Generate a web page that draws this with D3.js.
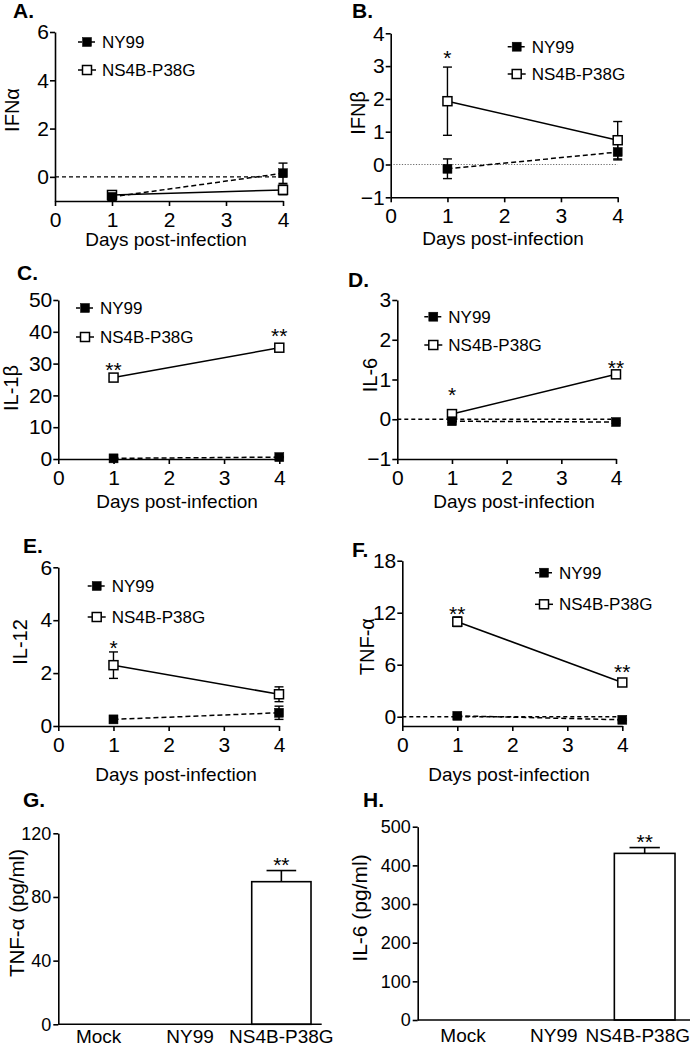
<!DOCTYPE html>
<html>
<head>
<meta charset="utf-8">
<script src="https://cdn.jsdelivr.net/npm/d3@7"></script>
<style>
  html, body { margin: 0; padding: 0; background: #fff; }
  svg { display: block; font-family: "Liberation Sans", Arial, sans-serif; }
</style>
</head>
<body>
<svg id="chart" width="691" height="1049"></svg>
<script>
// ---------------- DATA ----------------
const days = [1, 4];
const dayTicks = [0, 1, 2, 3, 4];
const seriesNames = ["NY99", "NS4B-P38G"];
const xTitle = "Days post-infection";

// A. IFNα
const ifnaTicks = [0, 2, 4, 6];
const ifnaNY99 = [-0.83, 0.15], ifnaNY99Err = [0.05, 0.42];
const ifnaNS4B = [-0.75, -0.54], ifnaNS4BErr = [0.08, 0.2];

// B. IFNβ
const ifnbTicks = [-1, 0, 1, 2, 3, 4];
const ifnbNY99 = [-0.13, 0.38], ifnbNY99Err = [0.3, 0.24];
const ifnbNS4B = [1.93, 0.74], ifnbNS4BErr = [1.04, 0.57];
const ifnbStars = [[1, 3.39, "*"]];

// C. IL-1β
const il1bTicks = [0, 10, 20, 30, 40, 50];
const il1bNY99 = [0.2, 0.6], il1bNY99Err = [0.1, 0.2];
const il1bNS4B = [25.6, 35.0], il1bNS4BErr = [0.6, 0.6];
const il1bStars = [[1, 29.6, "**"], [4, 40.3, "**"]];

// D. IL-6
const il6Ticks = [-1, 0, 1, 2, 3];
const il6NY99 = [-0.05, -0.07], il6NY99Err = [0.03, 0.03];
const il6NS4B = [0.13, 1.13], il6NS4BErr = [0.05, 0.06];
const il6Stars = [[1, 0.74, "*"], [4, 1.42, "**"]];

// E. IL-12
const il12Ticks = [0, 2, 4, 6];
const il12NY99 = [0.25, 0.5], il12NY99Err = [0.05, 0.25];
const il12NS4B = [2.3, 1.2], il12NS4BErr = [0.5, 0.28];
const il12Stars = [[1, 3.14, "*"]];

// F. TNF-α
const tnfTicks = [0, 6, 12, 18];
const tnfNY99 = [0.1, -0.35], tnfNY99Err = [0.1, 0.1];
const tnfNS4B = [10.96, 3.95], tnfNS4BErr = [0.55, 0.3];
const tnfStars = [[1, 12.4, "**"], [4, 5.73, "**"]];

// G / H bar charts
const barCategories = ["Mock", "NY99", "NS4B-P38G"];
const tnfPgTicks = [0, 40, 80, 120];
const tnfPg = [0, 0, 89.6], tnfPgErr = [0, 0, 7];
const tnfPgStars = [["NS4B-P38G", 103.2, "**"]];
const il6PgTicks = [0, 100, 200, 300, 400, 500];
const il6Pg = [0, 0, 431], il6PgErr = [0, 0, 15];
const il6PgStars = [["NS4B-P38G", 474, "**"]];

// ---------------- DRAWING ----------------
const W = 691;
const svg = d3.select("#chart");
const FONT = "\"Liberation Sans\", Arial, sans-serif";
const intFmt = d3.format("d");

function styleAxis(g, fs) {
  g.attr("font-family", FONT).attr("font-size", fs);
  g.selectAll("path.domain").attr("stroke", "#000").attr("stroke-width", 1.6);
  g.selectAll(".tick line").attr("stroke", "#000").attr("stroke-width", 1.6);
  g.selectAll(".tick text").attr("fill", "#000").attr("font-size", fs).attr("font-family", FONT);
}

function linePanel(cfg) {
  const g = svg.append("g");
  const x = d3.scaleLinear().domain([0, 4]).range([cfg.l, cfg.r]);
  const y = d3.scaleLinear().domain(cfg.yDomain).range([cfg.b, cfg.t]);

  if (cfg.zero) {
    g.append("line")
      .attr("x1", x(0)).attr("x2", x(4)).attr("y1", y(0)).attr("y2", y(0))
      .attr("stroke", cfg.zero === "dot" ? "#444" : "#000")
      .attr("stroke-width", cfg.zero === "dot" ? 0.8 : 1.4)
      .attr("stroke-dasharray", cfg.zero === "dot" ? "1.2,1.6" : "4,3");
  }

  const yAxis = g.append("g").attr("transform", `translate(${cfg.l},0)`)
    .call(d3.axisLeft(y).tickValues(cfg.ticks).tickFormat(intFmt).tickSize(5).tickPadding(1).tickSizeOuter(0));
  styleAxis(yAxis, 21);
  const xAxis = g.append("g").attr("transform", `translate(0,${cfg.b})`)
    .call(d3.axisBottom(x).tickValues(dayTicks).tickFormat(intFmt).tickSize(5).tickPadding(6).tickSizeOuter(0));
  styleAxis(xAxis, 21);

  const series = [
    { vals: cfg.ns4b, err: cfg.ns4bErr, filled: false, dash: null },
    { vals: cfg.ny99, err: cfg.ny99Err, filled: true, dash: "5,3" }
  ];
  const line = d3.line().x((d, i) => x(days[i])).y(d => y(d));
  series.forEach(s => {
    s.vals.forEach((v, i) => {
      const cx = x(days[i]);
      const e = s.err[i];
      g.append("line").attr("x1", cx).attr("x2", cx).attr("y1", y(v - e)).attr("y2", y(v + e))
        .attr("stroke", "#000").attr("stroke-width", 1.4);
      [v - e, v + e].forEach(ev => {
        g.append("line").attr("x1", cx - 4.5).attr("x2", cx + 4.5).attr("y1", y(ev)).attr("y2", y(ev))
          .attr("stroke", "#000").attr("stroke-width", 1.4);
      });
    });
    g.append("path").datum(s.vals).attr("d", line)
      .attr("fill", "none").attr("stroke", "#000").attr("stroke-width", 1.5)
      .attr("stroke-dasharray", s.dash);
  });
  series.forEach(s => {
    g.selectAll(null).data(s.vals).enter().append("rect")
      .attr("x", (d, i) => x(days[i]) - 4.5).attr("y", d => y(d) - 4.5)
      .attr("width", 9).attr("height", 9)
      .attr("fill", s.filled ? "#000" : "#fff")
      .attr("stroke", "#000").attr("stroke-width", s.filled ? 0.5 : 1.5);
  });

  (cfg.stars || []).forEach(st => {
    g.append("text").attr("x", x(st[0])).attr("y", y(st[1]) + 12)
      .attr("text-anchor", "middle").attr("font-size", 21).attr("font-family", FONT).text(st[2]);
  });

  const [lx, ly, ld] = cfg.legend;
  seriesNames.forEach((name, i) => {
    const yy = ly + i * ld;
    const filled = i === 0;
    g.append("line").attr("x1", lx - 9).attr("x2", lx + 9).attr("y1", yy).attr("y2", yy)
      .attr("stroke", "#000").attr("stroke-width", 1.5).attr("stroke-dasharray", filled ? "4,2.5" : null);
    g.append("rect").attr("x", lx - 4.5).attr("y", yy - 4.5).attr("width", 9).attr("height", 9)
      .attr("fill", filled ? "#000" : "#fff").attr("stroke", "#000").attr("stroke-width", filled ? 0.5 : 1.5);
    g.append("text").attr("x", lx + 15).attr("y", yy).attr("dy", "0.36em")
      .attr("font-size", 17).attr("font-family", FONT).text(name);
  });

  g.append("text").attr("x", cfg.xt[0]).attr("y", cfg.xt[1]).attr("text-anchor", "middle")
    .attr("font-size", 19).attr("font-family", FONT).text(xTitle);
  g.append("text").attr("transform", `translate(${cfg.yt[0]},${cfg.yt[1]}) rotate(-90)`)
    .attr("text-anchor", "middle").attr("dy", "0.35em")
    .attr("font-size", 20).attr("font-family", FONT).text(cfg.yTitle);
  g.append("text").attr("x", cfg.letter[0]).attr("y", cfg.letter[1])
    .attr("font-size", 21).attr("font-weight", "bold").attr("font-family", FONT).text(cfg.label);
}

function barPanel(cfg) {
  const g = svg.append("g");
  const x = d3.scaleBand().domain(barCategories).range([cfg.l, cfg.r])
    .paddingInner(cfg.pi).paddingOuter(cfg.po);
  const y = d3.scaleLinear().domain(cfg.yDomain).range([cfg.b, cfg.t]);

  const yAxis = g.append("g").attr("transform", `translate(${cfg.l},0)`)
    .call(d3.axisLeft(y).tickValues(cfg.ticks).tickFormat(intFmt).tickSize(5).tickPadding(2).tickSizeOuter(0));
  styleAxis(yAxis, 18);

  cfg.vals.forEach((v, i) => {
    const c = barCategories[i];
    if (v > 0) {
      const e = cfg.err[i];
      const cx = x(c) + x.bandwidth() / 2;
      g.append("line").attr("x1", cx).attr("x2", cx).attr("y1", y(v)).attr("y2", y(v + e))
        .attr("stroke", "#000").attr("stroke-width", 1.6);
      g.append("line").attr("x1", cx - x.bandwidth() / 4).attr("x2", cx + x.bandwidth() / 4)
        .attr("y1", y(v + e)).attr("y2", y(v + e)).attr("stroke", "#000").attr("stroke-width", 1.6);
      g.append("rect").attr("x", x(c)).attr("y", y(v)).attr("width", x.bandwidth())
        .attr("height", y(0) - y(v)).attr("fill", "#fff").attr("stroke", "#000").attr("stroke-width", 1.6);
    }
  });

  const xAxis = g.append("g").attr("transform", `translate(0,${cfg.b})`)
    .call(d3.axisBottom(x).tickSize(0).tickPadding(cfg.lp).tickSizeOuter(0));
  xAxis.select("path.domain").attr("d", `M${cfg.l},0H${cfg.r}`);
  styleAxis(xAxis, 19);
  xAxis.selectAll(".tick text").each(function () {
    const bb = this.getBBox();
    const tr = this.parentNode.transform.baseVal.consolidate().matrix.e;
    const right = tr + bb.x + bb.width;
    if (right > W - 1) d3.select(this).attr("x", (W - 1) - right);
  });

  cfg.stars.forEach(st => {
    g.append("text").attr("x", x(st[0]) + x.bandwidth() / 2).attr("y", y(st[1]) + 12)
      .attr("text-anchor", "middle").attr("font-size", 21).attr("font-family", FONT).text(st[2]);
  });

  g.append("text").attr("transform", `translate(${cfg.yt[0]},${cfg.yt[1]}) rotate(-90)`)
    .attr("text-anchor", "middle").attr("dy", "0.35em")
    .attr("font-size", cfg.ytfs).attr("font-family", FONT).text(cfg.yTitle);
  g.append("text").attr("x", cfg.letter[0]).attr("y", cfg.letter[1])
    .attr("font-size", 21).attr("font-weight", "bold").attr("font-family", FONT).text(cfg.label);
}

linePanel({ label: "A.", letter: [13, 18], l: 55, r: 283, t: 32, b: 201, yDomain: [-1, 6], ticks: ifnaTicks,
  ny99: ifnaNY99, ny99Err: ifnaNY99Err, ns4b: ifnaNS4B, ns4bErr: ifnaNS4BErr, zero: "dash",
  legend: [87, 42, 28], xt: [166, 246], yt: [12, 110], yTitle: "IFNα" });

linePanel({ label: "B.", letter: [352, 18], l: 390.7, r: 617.7, t: 33.3, b: 197.3, yDomain: [-1, 4], ticks: ifnbTicks,
  ny99: ifnbNY99, ny99Err: ifnbNY99Err, ns4b: ifnbNS4B, ns4bErr: ifnbNS4BErr, zero: "dot", stars: ifnbStars,
  legend: [516.7, 46.7, 27.3], xt: [503, 245], yt: [358, 113], yTitle: "IFNβ" });

linePanel({ label: "C.", letter: [17, 280], l: 58.3, r: 279.3, t: 300, b: 459, yDomain: [0, 50], ticks: il1bTicks,
  ny99: il1bNY99, ny99Err: il1bNY99Err, ns4b: il1bNS4B, ns4bErr: il1bNS4BErr, zero: null, stars: il1bStars,
  legend: [85, 308, 29], xt: [177, 508], yt: [10.5, 388], yTitle: "IL-1β" });

linePanel({ label: "D.", letter: [348, 287], l: 397.3, r: 616, t: 300, b: 459, yDomain: [-1, 3], ticks: il6Ticks,
  ny99: il6NY99, ny99Err: il6NY99Err, ns4b: il6NS4B, ns4bErr: il6NS4BErr, zero: "dash", stars: il6Stars,
  legend: [433.3, 316.7, 28.3], xt: [514, 508], yt: [370, 375], yTitle: "IL-6" });

linePanel({ label: "E.", letter: [23, 553], l: 58.3, r: 279, t: 567.3, b: 726, yDomain: [0, 6], ticks: il12Ticks,
  ny99: il12NY99, ny99Err: il12NY99Err, ns4b: il12NS4B, ns4bErr: il12NS4BErr, zero: null, stars: il12Stars,
  legend: [96.7, 586, 31], xt: [176, 781], yt: [20, 642], yTitle: "IL-12" });

linePanel({ label: "F.", letter: [352, 557], l: 402.3, r: 622.3, t: 560.7, b: 726, yDomain: [-1.07, 18], ticks: tnfTicks,
  ny99: tnfNY99, ny99Err: tnfNY99Err, ns4b: tnfNS4B, ns4bErr: tnfNS4BErr, zero: "dash", stars: tnfStars,
  legend: [544, 572.7, 31.6], xt: [509, 781], yt: [366.7, 646.7], yTitle: "TNF-α" });

barPanel({ label: "G.", letter: [23, 807], l: 58.3, r: 321.7, t: 833.3, b: 1024.3, yDomain: [0, 120], ticks: tnfPgTicks,
  vals: tnfPg, err: tnfPgErr, stars: tnfPgStars, pi: 0.351, po: 0.117, lp: 5, yt: [16.7, 913], ytfs: 20.5, yTitle: "TNF-α (pg/ml)" });

barPanel({ label: "H.", letter: [363, 807], l: 417.7, r: 690, t: 826.7, b: 1020, yDomain: [0, 500], ticks: il6PgTicks,
  vals: il6Pg, err: il6PgErr, stars: il6PgStars, pi: 0.332, po: 0.165, lp: 9, yt: [360, 908], ytfs: 21, yTitle: "IL-6 (pg/ml)" });
</script>
</body>
</html>
